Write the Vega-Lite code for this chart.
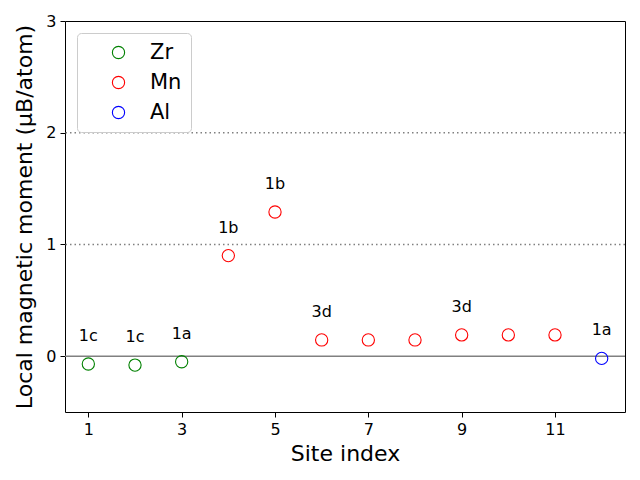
{
  "$schema": "https://vega.github.io/schema/vega-lite/v6.json",
  "width": 560,
  "height": 391,
  "autosize": {"type": "none"},
  "padding": {"left": 65, "top": 21, "right": 15, "bottom": 68},
  "config": {
    "font": "DejaVu Sans",
    "view": {"stroke": "black", "strokeWidth": 1},
    "axis": {"grid": false, "domain": false, "tickColor": "black", "tickSize": 5, "labelFontSize": 16, "labelColor": "black", "titleFontSize": 22, "titleFontWeight": "normal", "titleColor": "black", "labelFont": "DejaVu Sans", "titleFont": "DejaVu Sans", "labelPadding": 4}
  },
  "data": {"values": [
    {"site": 1, "moment": -0.07, "element": "Zr", "label": "1c"},
    {"site": 2, "moment": -0.08, "element": "Zr", "label": "1c"},
    {"site": 3, "moment": -0.05, "element": "Zr", "label": "1a"},
    {"site": 4, "moment": 0.90, "element": "Mn", "label": "1b"},
    {"site": 5, "moment": 1.29, "element": "Mn", "label": "1b"},
    {"site": 6, "moment": 0.145, "element": "Mn", "label": "3d"},
    {"site": 7, "moment": 0.145, "element": "Mn", "label": ""},
    {"site": 8, "moment": 0.145, "element": "Mn", "label": ""},
    {"site": 9, "moment": 0.19, "element": "Mn", "label": "3d"},
    {"site": 10, "moment": 0.19, "element": "Mn", "label": ""},
    {"site": 11, "moment": 0.19, "element": "Mn", "label": ""},
    {"site": 12, "moment": -0.02, "element": "Al", "label": "1a"}
  ]},
  "layer": [
    {
      "data": {"values": [{"y": 0}]},
      "mark": {"type": "rule", "color": "gray", "strokeWidth": 1.5},
      "encoding": {"y": {"field": "y", "type": "quantitative"}}
    },
    {
      "data": {"values": [{"y": 1}, {"y": 2}]},
      "mark": {"type": "rule", "color": "gray", "strokeWidth": 1.5, "strokeDash": [1.5, 3]},
      "encoding": {"y": {"field": "y", "type": "quantitative"}}
    },
    {
      "mark": {"type": "point", "shape": "circle", "filled": false, "size": 150, "strokeWidth": 1.1, "opacity": 1},
      "encoding": {
        "x": {"field": "site", "type": "quantitative", "scale": {"domain": [0.5, 12.5], "nice": false, "zero": false}, "axis": {"values": [1, 3, 5, 7, 9, 11], "format": "d", "title": "Site index", "titlePadding": 6}},
        "y": {"field": "moment", "type": "quantitative", "scale": {"domain": [-0.5, 3], "nice": false, "zero": false}, "axis": {"values": [0, 1, 2, 3], "format": "d", "title": "Local magnetic moment (μB/atom)", "titlePadding": 9}},
        "color": {"field": "element", "type": "nominal", "scale": {"domain": ["Zr", "Mn", "Al"], "range": ["green", "red", "blue"]},
          "legend": {"title": null, "orient": "none", "legendX": 12, "legendY": 12, "labelFontSize": 21, "labelColor": "black", "symbolSize": 150, "symbolStrokeWidth": 1.1, "symbolType": "circle", "fillColor": "white", "strokeColor": "#cccccc", "cornerRadius": 4, "padding": 9, "rowPadding": 8, "labelOffset": 21, "symbolOffset": 22, "labelFont": "DejaVu Sans"}}
      }
    },
    {
      "mark": {"type": "text", "dy": -28, "fontSize": 16, "color": "black", "baseline": "middle", "align": "center"},
      "encoding": {
        "x": {"field": "site", "type": "quantitative"},
        "y": {"field": "moment", "type": "quantitative"},
        "text": {"field": "label"}
      }
    }
  ]
}
